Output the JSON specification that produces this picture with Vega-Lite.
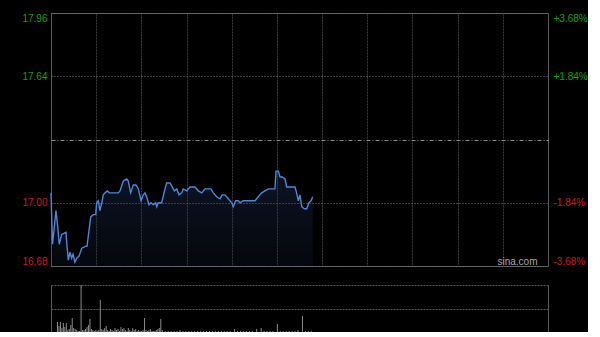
{
  "$schema": "https://vega.github.io/schema/vega-lite/v6.json",
  "background": "#000000",
  "padding": {"left": 21, "top": 12, "right": 0, "bottom": 0},
  "spacing": 17,
  "config": {"font": "Liberation Sans", "axis": {"labelFontSize": 10, "labelFont": "Liberation Sans"}},
  "datasets": {
    "price": [
      {"t":0,"p":17.05},{"t":1,"p":16.79},{"t":3.3,"p":16.96},{"t":4.2,"p":16.90},{"t":5.5,"p":16.79},
      {"t":7.1,"p":16.84},{"t":10,"p":16.85},{"t":10.4,"p":16.80},{"t":11.5,"p":16.71},{"t":12.6,"p":16.75},
      {"t":13.7,"p":16.72},{"t":14.6,"p":16.74},{"t":15.9,"p":16.70},{"t":17.1,"p":16.72},{"t":18.6,"p":16.73},
      {"t":20.4,"p":16.77},{"t":23.2,"p":16.78},{"t":23.9,"p":16.78},{"t":26.4,"p":16.93},{"t":28.1,"p":16.94},
      {"t":29.7,"p":16.94},{"t":30.3,"p":17.00},{"t":31.4,"p":17.01},{"t":32.5,"p":16.96},{"t":33.7,"p":17.00},
      {"t":34.7,"p":17.04},{"t":35.9,"p":17.05},{"t":37.4,"p":17.06},{"t":38.7,"p":17.05},{"t":40.3,"p":17.05},
      {"t":42.5,"p":17.05},{"t":44.7,"p":17.05},{"t":45.8,"p":17.06},{"t":48,"p":17.11},{"t":50.3,"p":17.12},
      {"t":51.3,"p":17.11},{"t":52.9,"p":17.05},{"t":54.6,"p":17.09},{"t":56.4,"p":17.09},{"t":58,"p":17.07},
      {"t":59.8,"p":17.01},{"t":61.3,"p":17.04},{"t":62.4,"p":17.05},{"t":63.5,"p":17.03},{"t":65.1,"p":16.99},
      {"t":66.4,"p":17.00},{"t":67.9,"p":16.99},{"t":69.5,"p":17.00},{"t":70.2,"p":16.98},{"t":71.2,"p":17.00},
      {"t":73.5,"p":17.00},{"t":75.7,"p":17.07},{"t":76.8,"p":17.10},{"t":79,"p":17.10},{"t":80.5,"p":17.08},
      {"t":81.9,"p":17.06},{"t":83.5,"p":17.07},{"t":85,"p":17.04},{"t":86.8,"p":17.05},{"t":87.8,"p":17.07},
      {"t":90.1,"p":17.06},{"t":92.3,"p":17.08},{"t":95.6,"p":17.08},{"t":97.8,"p":17.06},{"t":100.1,"p":17.05},
      {"t":102.3,"p":17.07},{"t":104.4,"p":17.07},{"t":106.2,"p":17.07},{"t":107.8,"p":17.05},{"t":110,"p":17.03},
      {"t":112.2,"p":17.02},{"t":113.7,"p":17.04},{"t":115.5,"p":17.04},{"t":117.7,"p":17.02},{"t":120,"p":17.00},
      {"t":121,"p":16.98},{"t":122.6,"p":17.01},{"t":124.4,"p":17.01},{"t":125.5,"p":17.00},{"t":127.7,"p":17.01},
      {"t":133.3,"p":17.01},{"t":135.5,"p":17.01},{"t":137.6,"p":17.03},{"t":139.9,"p":17.05},{"t":142.1,"p":17.06},
      {"t":144.3,"p":17.07},{"t":148.7,"p":17.07},{"t":149.4,"p":17.16},{"t":150.9,"p":17.16},{"t":152.1,"p":17.13},
      {"t":153.6,"p":17.13},{"t":155.4,"p":17.12},{"t":156.5,"p":17.08},{"t":162,"p":17.08},{"t":163.1,"p":17.05},
      {"t":164.2,"p":17.01},{"t":165.3,"p":17.04},{"t":166.5,"p":16.98},{"t":168.2,"p":16.97},{"t":169.8,"p":16.97},
      {"t":171.3,"p":17.00},{"t":172.6,"p":17.01},{"t":173.8,"p":17.03}
    ],
    "vol": [
      {"t":1,"v":10},{"t":2,"v":6},{"t":3,"v":10},{"t":4,"v":4},{"t":5,"v":9},{"t":6,"v":5},{"t":7,"v":9},
      {"t":8,"v":2},{"t":9,"v":3},{"t":10,"v":7},{"t":11,"v":14},{"t":12,"v":4},{"t":13,"v":3},{"t":14,"v":2},
      {"t":15,"v":1},{"t":16,"v":1},{"t":17,"v":47},{"t":18,"v":2},{"t":19,"v":2},{"t":20,"v":3},{"t":21,"v":5},
      {"t":22,"v":7},{"t":23,"v":13},{"t":24,"v":3},{"t":25,"v":2},{"t":26,"v":1},{"t":27,"v":2},{"t":28,"v":1},
      {"t":29,"v":2},{"t":30,"v":32},{"t":31,"v":3},{"t":32,"v":2},{"t":33,"v":4},{"t":34,"v":6},{"t":35,"v":2},
      {"t":36,"v":1},{"t":37,"v":3},{"t":38,"v":2},{"t":39,"v":1},{"t":40,"v":4},{"t":41,"v":2},{"t":42,"v":3},
      {"t":43,"v":1},{"t":44,"v":5},{"t":45,"v":3},{"t":46,"v":4},{"t":47,"v":2},{"t":48,"v":1},{"t":49,"v":4},
      {"t":50,"v":2},{"t":51,"v":1},{"t":52,"v":4},{"t":53,"v":2},{"t":54,"v":3},{"t":55,"v":1},{"t":56,"v":2},
      {"t":57,"v":1},{"t":58,"v":1},{"t":59,"v":2},{"t":60,"v":14},{"t":61,"v":2},{"t":62,"v":1},{"t":63,"v":2},
      {"t":64,"v":3},{"t":65,"v":1},{"t":66,"v":1},{"t":67,"v":1},{"t":68,"v":2},{"t":69,"v":3},{"t":70,"v":4},
      {"t":71,"v":13},{"t":72,"v":2},{"t":74,"v":1},{"t":76,"v":1},{"t":78,"v":1},{"t":80,"v":1},{"t":82,"v":1},
      {"t":84,"v":2},{"t":86,"v":1},{"t":88,"v":1},{"t":90,"v":1},{"t":92,"v":1},{"t":94,"v":1},{"t":96,"v":1},
      {"t":98,"v":1},{"t":100,"v":1},{"t":102,"v":1},{"t":104,"v":1},{"t":106,"v":1},{"t":108,"v":1},{"t":110,"v":1},
      {"t":112,"v":1},{"t":114,"v":1},{"t":116,"v":1},{"t":118,"v":1},{"t":121,"v":3},{"t":123,"v":1},{"t":125,"v":1},
      {"t":127,"v":1},{"t":129,"v":1},{"t":131,"v":1},{"t":133,"v":1},{"t":136,"v":3},{"t":139,"v":4},{"t":141,"v":1},
      {"t":143,"v":1},{"t":145,"v":1},{"t":147,"v":1},{"t":150,"v":8},{"t":152,"v":1},{"t":154,"v":1},{"t":156,"v":1},
      {"t":158,"v":1},{"t":160,"v":1},{"t":162,"v":1},{"t":164,"v":2},{"t":167,"v":16},{"t":169,"v":1},{"t":171,"v":1},
      {"t":173,"v":1}
    ],
    "brand": [{"t":323,"p":16.68,"label":"sina.com"}]
  },
  "vconcat": [
    {
      "width": 497,
      "height": 253,
      "view": {"stroke": "#5a5a5a", "strokeWidth": 1},
      "encoding": {
        "x": {"field": "t", "type": "quantitative", "scale": {"domain": [0, 330], "nice": false, "zero": false},
          "axis": {"values": [30, 60, 90, 120, 150, 180, 210, 240, 270, 300], "grid": true, "gridColor": "#3c3c3c", "gridDash": [2, 1], "labels": false, "ticks": false, "domain": false, "title": null}}
      },
      "layer": [
        {
          "data": {"name": "price"},
          "mark": {"type": "area", "interpolate": "linear", "color": {"gradient": "linear", "x1": 0, "y1": 0, "x2": 0, "y2": 1, "stops": [{"offset": 0, "color": "rgba(45,75,135,0.28)"}, {"offset": 1, "color": "rgba(25,40,70,0.18)"}]}},
          "encoding": {
            "y": {"field": "p", "type": "quantitative", "scale": {"domain": [16.68, 17.96], "nice": false, "zero": false},
              "axis": {"orient": "left", "values": [16.68, 17.0, 17.32, 17.64, 17.96], "title": null, "domain": false, "ticks": false, "labelPadding": 4, "labelFlush": true,
                "labelColor": {"condition": {"test": "datum.value > 17.33", "value": "#10a010"}, "value": "#d01818"},
                "labelExpr": "abs(datum.value - 17.32) < 0.001 ? '' : format(datum.value, '.2f')",
                "grid": true,
                "gridColor": {"condition": {"test": "abs(datum.value - 17.32) < 0.001", "value": "#8a8a8a"}, "value": "#7a7a7a"},
                "gridDash": {"condition": {"test": "abs(datum.value - 17.32) < 0.001", "value": [4, 2, 1, 2]}, "value": [1, 2]}}},
            "y2": {"datum": 16.68}
          }
        },
        {
          "data": {"name": "price"},
          "mark": {"type": "line", "color": "#4f86d6", "strokeWidth": 1.4},
          "encoding": {
            "y": {"field": "p", "type": "quantitative", "scale": {"domain": [16.68, 17.96], "nice": false, "zero": false},
              "axis": {"orient": "right", "values": [16.68, 17.0, 17.32, 17.64, 17.96], "title": null, "domain": false, "ticks": false, "grid": false, "labelPadding": 5, "labelFlush": true,
                "labelColor": {"condition": {"test": "datum.value > 17.33", "value": "#10a010"}, "value": "#d01818"},
                "labelExpr": "datum.value > 17.9 ? '+3.68%' : datum.value > 17.6 ? '+1.84%' : datum.value > 17.3 ? '' : datum.value > 16.9 ? '-1.84%' : '-3.68%'"}}
          }
        },
        {
          "data": {"name": "brand"},
          "mark": {"type": "text", "align": "right", "baseline": "bottom", "color": "#a8a8a8", "fontSize": 10, "dy": 1},
          "encoding": {
            "y": {"field": "p", "type": "quantitative", "scale": {"domain": [16.68, 17.96], "nice": false, "zero": false}, "axis": null},
            "text": {"field": "label"}
          }
        }
      ],
      "resolve": {"scale": {"y": "independent"}, "axis": {"y": "independent"}}
    },
    {
      "width": 497,
      "height": 47,
      "view": {"stroke": null},
      "data": {"name": "vol"},
      "encoding": {
        "x": {"field": "t", "type": "quantitative", "scale": {"domain": [0, 330], "nice": false, "zero": false}, "axis": null}
      },
      "layer": [
        {
          "mark": {"type": "bar", "color": "#8c8c8c", "width": 1},
          "encoding": {
            "y": {"field": "v", "type": "quantitative", "scale": {"domain": [0, 47], "nice": false},
              "axis": {"orient": "left", "values": [0, 23.5, 47], "labels": false, "ticks": false, "title": null, "domain": true, "domainColor": "#5a5a5a", "grid": true, "gridColor": "#5a5a5a", "gridDash": [2, 1]}}
          }
        },
        {
          "mark": {"type": "bar", "opacity": 0, "width": 1},
          "encoding": {
            "y": {"field": "v", "type": "quantitative", "scale": {"domain": [0, 47], "nice": false},
              "axis": {"orient": "right", "labels": false, "ticks": false, "title": null, "domain": true, "domainColor": "#5a5a5a", "grid": false}}
          }
        }
      ],
      "resolve": {"axis": {"y": "independent"}}
    }
  ]
}
